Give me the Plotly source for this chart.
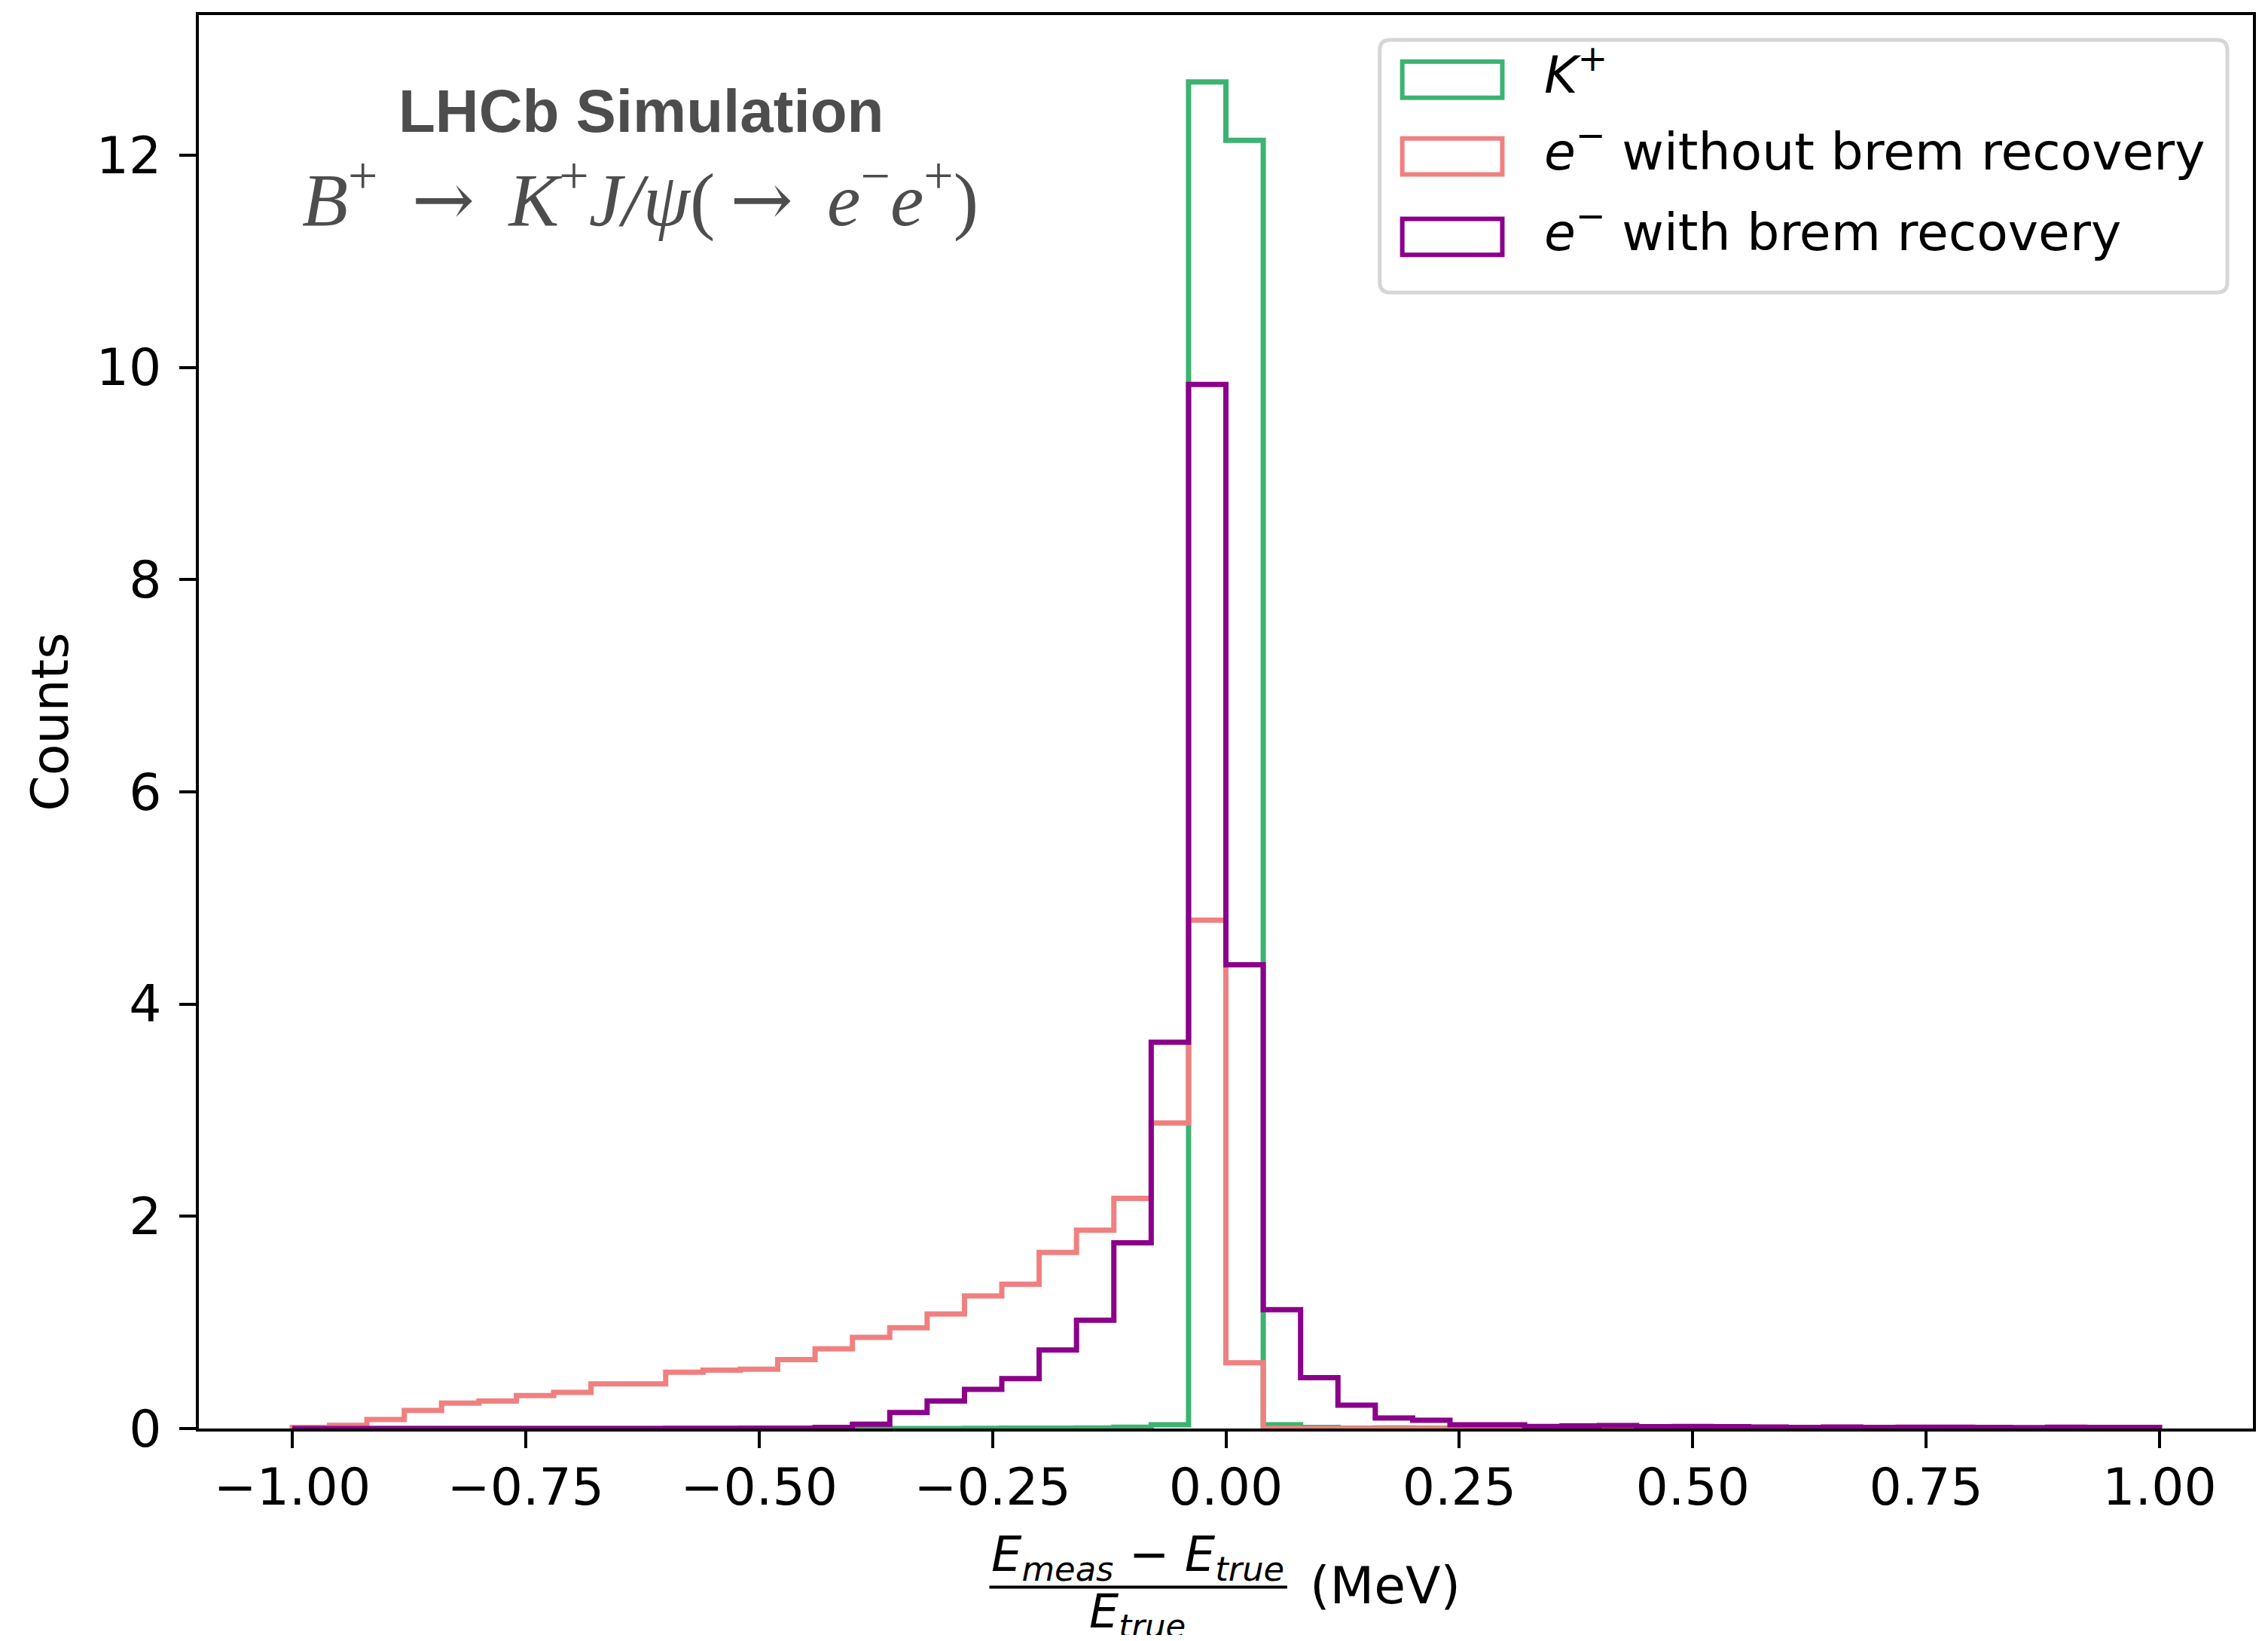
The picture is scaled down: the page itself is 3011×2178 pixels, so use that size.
import numpy as np
import plotly.graph_objects as go

# histogram binning: 50 bins over [-1, 1]
BIN_LO, BIN_HI, N_BINS = -1.0, 1.0, 50
edges = np.round(np.linspace(BIN_LO, BIN_HI, N_BINS + 1), 4)

# normalised counts per bin
kaon = [0, 0, 0, 0, 0, 0, 0, 0, 0, 0,
        0, 0, 0, 0, 0, 0, 0, 0, 0.002, 0.003,
        0.004, 0.006, 0.012, 0.035, 12.69, 12.14, 0.035, 0.01, 0.004, 0.006,
        0.003, 0, 0, 0, 0, 0, 0, 0, 0, 0,
        0, 0, 0, 0, 0, 0, 0, 0, 0, 0]
e_no_brem = [0.01, 0.03, 0.085, 0.17, 0.24, 0.26, 0.31, 0.34, 0.42, 0.42,
             0.53, 0.55, 0.56, 0.65, 0.75, 0.86, 0.95, 1.08, 1.25, 1.36,
             1.66, 1.87, 2.17, 2.88, 4.79, 0.62, 0.002, 0, 0, 0,
             0, 0, 0, 0, 0, 0, 0, 0, 0, 0,
             0, 0, 0, 0, 0, 0, 0, 0, 0, 0]
e_brem = [0, 0, 0, 0, 0, 0, 0, 0, 0, 0,
          0.002, 0.002, 0.003, 0.004, 0.01, 0.04, 0.15, 0.26, 0.37, 0.47,
          0.74, 1.02, 1.75, 3.64, 9.84, 4.37, 1.12, 0.48, 0.22, 0.10,
          0.078, 0.035, 0.035, 0.02, 0.025, 0.028, 0.017, 0.02, 0.018, 0.015,
          0.01, 0.015, 0.01, 0.013, 0.013, 0.01, 0.008, 0.012, 0.01, 0.01]

labels = ["<i>K</i><sup>+</sup>",
          "<i>e</i><sup>−</sup> without brem recovery",
          "<i>e</i><sup>−</sup> with brem recovery"]
colors = ["#3CB371", "#F08080", "#8B008B"]
x_ticks = [-1.0, -0.75, -0.5, -0.25, 0.0, 0.25, 0.5, 0.75, 1.0]

# page has an 8px body margin, so the figure is drawn 8px in from the corner
PAGE_W, PAGE_H, OFF = 3011, 2178, 8
W, H = PAGE_W - 2 * OFF, PAGE_H - 2 * OFF
# plot area in page pixels
L, R, T, B = 264, 2995, 16, 1896
FONT = "DejaVu Sans"
FS = 68


def px(x):
    return (x - L) / (R - L)


def py(y):
    return (B - y) / (B - T)


def step_xy(counts):
    # outline of a matplotlib-style step histogram
    xs = [edges[0]] + list(edges)
    ys = [0] + list(counts) + [0]
    return xs, ys


fig = go.Figure()
for counts, name, col in zip([kaon, e_no_brem, e_brem], labels, colors):
    xs, ys = step_xy(counts)
    fig.add_trace(go.Scatter(x=xs, y=ys, mode="lines", name=name,
                             line=dict(color=col, width=7, shape="hv"),
                             showlegend=False))

shapes = []
annotations = []

# legend box with rounded corners
x0, x1, y0, y1, r = 1834, 2961, 49, 385, 14
path = (f"M {px(x0 + r)},{py(y0)} L {px(x1 - r)},{py(y0)} "
        f"Q {px(x1)},{py(y0)} {px(x1)},{py(y0 + r)} L {px(x1)},{py(y1 - r)} "
        f"Q {px(x1)},{py(y1)} {px(x1 - r)},{py(y1)} L {px(x0 + r)},{py(y1)} "
        f"Q {px(x0)},{py(y1)} {px(x0)},{py(y1 - r)} L {px(x0)},{py(y0 + r)} "
        f"Q {px(x0)},{py(y0)} {px(x0 + r)},{py(y0)} Z")
shapes.append(dict(type="path", xref="paper", yref="paper", path=path,
                   line=dict(color="#d6d6d6", width=5), fillcolor="white",
                   layer="above"))
for i, (name, col) in enumerate(zip(labels, colors)):
    cy = [102, 204, 311][i]
    shapes.append(dict(type="rect", xref="paper", yref="paper",
                       x0=px(1864), x1=px(1997), y0=py(cy - 24), y1=py(cy + 24),
                       line=dict(color=col, width=6), fillcolor="white",
                       layer="above"))
    annotations.append(dict(xref="paper", yref="paper", x=px(2051), y=py(cy - 11),
                            xanchor="left", yanchor="middle", showarrow=False,
                            text=name, font=dict(family=FONT, size=FS, color="black")))

# LHCb label
GREY = "#4d4d4d"
annotations.append(dict(xref="paper", yref="paper", x=px(852), y=py(144),
                        xanchor="center", yanchor="middle", showarrow=False,
                        text="<b>LHCb Simulation</b>",
                        font=dict(family="Liberation Sans", size=80, color=GREY)))
arrow = "<span style=\"font-family:DejaVu Serif\">→</span>"
sp = "\u2009"
decay = (f"<i>B</i><sup>+</sup> {sp}{arrow}{sp} <i>K</i><sup>+</sup><i>J/ψ</i>("
         f"{sp}{arrow}{sp} <i>e</i><sup>−</sup><i>e</i><sup>+</sup>)")
annotations.append(dict(xref="paper", yref="paper", x=px(851), y=py(256),
                        xanchor="center", yanchor="middle", showarrow=False,
                        text=decay,
                        font=dict(family="Liberation Serif", size=100, color=GREY)))

# x-axis label as a fraction
annotations.append(dict(xref="paper", yref="paper", x=px(1512), y=py(2068),
                        xanchor="center", yanchor="middle", showarrow=False,
                        text="<i>E</i><sub><i>meas</i></sub> − <i>E</i><sub><i>true</i></sub>",
                        font=dict(family=FONT, size=64, color="black")))
shapes.append(dict(type="line", xref="paper", yref="paper",
                   x0=px(1315), x1=px(1711), y0=py(2107), y1=py(2107),
                   line=dict(color="black", width=4)))
annotations.append(dict(xref="paper", yref="paper", x=px(1512), y=py(2143),
                        xanchor="center", yanchor="middle", showarrow=False,
                        text="<i>E</i><sub><i>true</i></sub>",
                        font=dict(family=FONT, size=62, color="black")))
annotations.append(dict(xref="paper", yref="paper", x=px(1739), y=py(2105),
                        xanchor="left", yanchor="middle", showarrow=False,
                        text="(MeV)",
                        font=dict(family=FONT, size=FS, color="black")))

axis_common = dict(showline=True, linecolor="black", linewidth=4, mirror=True,
                   ticks="outside", ticklen=22, tickwidth=4, tickcolor="black",
                   showgrid=False, zeroline=False,
                   tickfont=dict(family=FONT, size=FS, color="black"))

fig.update_layout(
    width=W, height=H,
    margin=dict(l=L - OFF, r=W - (R - OFF), t=T - OFF, b=H - (B - OFF)),
    paper_bgcolor="white", plot_bgcolor="white",
    showlegend=False,
    shapes=shapes, annotations=annotations,
    xaxis=dict(range=[-1.1, 1.1], tickvals=x_ticks, tickformat=".2f",
               ticklabelstandoff=-7, **axis_common),
    yaxis=dict(range=[0, 13.32], dtick=2, tickformat="d",
               ticklabelstandoff=10,
               title=dict(text="Counts", standoff=16,
                          font=dict(family=FONT, size=FS, color="black")),
               **axis_common),
)

fig.write_html("out.html")
